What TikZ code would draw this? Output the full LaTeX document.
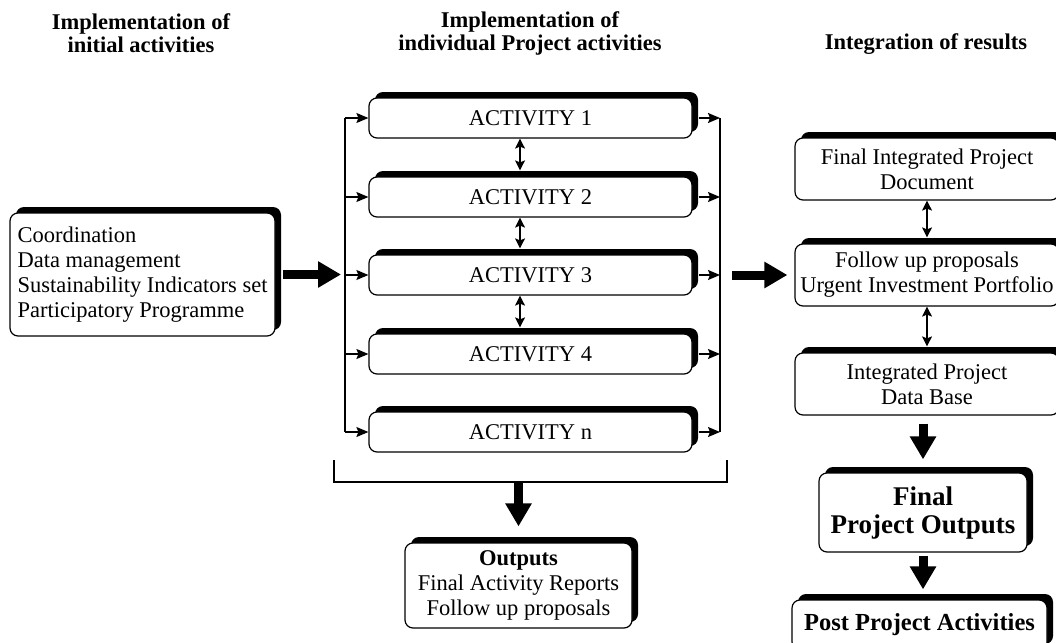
\documentclass[tikz,border=0pt]{standalone}
\usepackage{fontspec}
\setmainfont{Liberation Serif}
\usetikzlibrary{arrows.meta,shadows}
\begin{document}
\begin{tikzpicture}[x=1pt,y=-1pt,
  font=\fontsize{22.5}{25}\selectfont,
  box/.style={draw=black, line width=1.2pt, fill=white, rounded corners=8pt,
    inner sep=0pt, align=center,
    drop shadow={shadow xshift=6pt, shadow yshift=6pt, opacity=1, fill=black}},
  hdr/.style={align=center, font=\fontsize{22.5}{23}\selectfont\bfseries},
  thinline/.style={line width=1.3pt},
  conn/.style={line width=1.3pt, -{Stealth[length=12pt,width=10pt,inset=2pt]}},
  dbl/.style={line width=1.3pt, {Stealth[length=10pt,width=10pt,inset=2pt]}-{Stealth[length=10pt,width=10pt,inset=2pt]}},
  bigarrow/.style={line width=9pt, -{Triangle[length=23pt,width=25pt]}},
  bracket/.style={line width=2.5pt}
]
\useasboundingbox (0,0) rectangle (1056,642);

% headers
\node[hdr] (h1) at (141,33) {Implementation of\\initial activities};
\node[hdr] (h2) at (530,33) {Implementation of\\individual Project activities};
\node[hdr] (h3) at (926,44) {Integration of results};

% left box
\node[box, minimum width=265pt, minimum height=123pt, align=left] (L) at (142.5,274.5)
  {Coordination\\Data management\\Sustainability Indicators set\\Participatory Programme};

% activities
\node[box, minimum width=323pt, minimum height=40pt] (a1) at (530.5,118) {ACTIVITY 1};
\node[box, minimum width=323pt, minimum height=40pt] (a2) at (530.5,197) {ACTIVITY 2};
\node[box, minimum width=323pt, minimum height=40pt] (a3) at (530.5,275) {ACTIVITY 3};
\node[box, minimum width=323pt, minimum height=40pt] (a4) at (530.5,354) {ACTIVITY 4};
\node[box, minimum width=323pt, minimum height=40pt] (a5) at (530.5,432) {ACTIVITY n};

% buses
\coordinate (busL) at (345,118);
\coordinate (busLb) at (345,432);
\coordinate (busR) at (720,118);
\coordinate (busRb) at (720,432);
\draw[thinline] (busL) -- (busLb);
\draw[thinline] (busR) -- (busRb);
\foreach \n in {a1,a2,a3,a4,a5}{
  \draw[conn] (\n.west -| busL) -- (\n.west);
  \draw[conn] ([xshift=6pt]\n.east) -- (\n.east -| busR);
}
% double arrows between activities
\draw[dbl] ([xshift=-10.5pt]a1.south) -- ([xshift=-10.5pt,yshift=6pt]a2.north);
\draw[dbl] ([xshift=-10.5pt]a2.south) -- ([xshift=-10.5pt,yshift=6pt]a3.north);
\draw[dbl] ([xshift=-10.5pt]a3.south) -- ([xshift=-10.5pt,yshift=6pt]a4.north);

% big arrow left box -> activities
\draw[bigarrow, shorten >=4pt] ([xshift=7pt]L.east) -- (L.east -| busL);

% bracket
\coordinate (brLt) at (334,460);
\coordinate (brLb) at (334,482);
\coordinate (brRb) at (727,482);
\coordinate (brRt) at (727,460);
\coordinate (brM) at (518.5,482);
\draw[bracket] (brLt) -- (brLb) -- (brRb) -- (brRt);

% outputs
\node[box, minimum width=227pt, minimum height=85pt] (out) at (518.5,585.5)
  {\textbf{Outputs}\\Final Activity Reports\\Follow up proposals};
\draw[bigarrow] (brM) -- ([yshift=16pt]out.north);

% right column
\node[box, minimum width=264pt, minimum height=62pt] (f1) at (927,169) {Final Integrated Project\\Document};
\node[box, minimum width=264pt, minimum height=62pt] (f2) at (927,275) {Follow up proposals\\Urgent Investment Portfolio};
\node[box, minimum width=264pt, minimum height=62pt] (f3) at (927,384) {Integrated Project\\Data Base};
\draw[dbl] (f1.south) -- ([yshift=6pt]f2.north);
\draw[dbl] (f2.south) -- ([yshift=6pt]f3.north);

\draw[bigarrow] ([xshift=12pt]busR |- a3.east) -- ([xshift=-7pt]f2.west);

\node[box, minimum width=208pt, minimum height=79pt, font=\fontsize{27}{28}\selectfont\bfseries] (fpo) at (923,512.5) {Final\\Project Outputs};
\node[box, minimum width=255pt, minimum height=50pt, font=\fontsize{24.5}{26}\selectfont\bfseries] (post) at (919.5,625) {Post Project Activities};

\draw[bigarrow] ([yshift=-8pt]f3.south -| fpo.north) -- ([yshift=13pt]fpo.north);
\draw[bigarrow] ([yshift=-3pt]fpo.south) -- ([yshift=10pt]fpo.south |- post.north);
\end{tikzpicture}
\end{document}
